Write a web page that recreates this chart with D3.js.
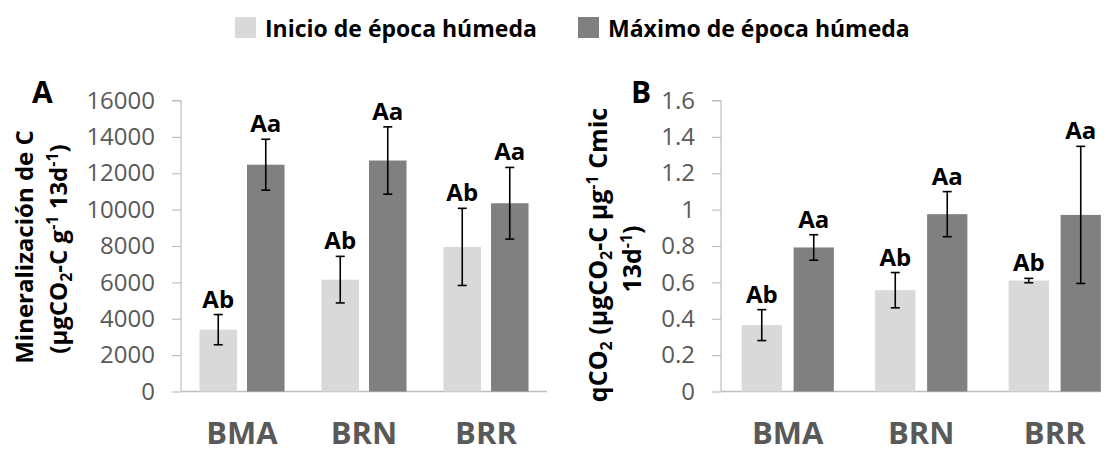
<!DOCTYPE html>
<html><head><meta charset="utf-8">
<script src="https://cdn.jsdelivr.net/npm/d3@7"></script>
<style>
html,body{margin:0;padding:0;background:#fff;}
svg{display:block;font-family:"Open Sans",sans-serif;}
</style></head>
<body>
<svg id="c" width="1108" height="452"></svg>
<script>
const categories = ["BMA", "BRN", "BRR"];
const seriesNames = ["Inicio de época húmeda", "Máximo de época húmeda"];
const seriesColors = ["#d9d9d9", "#808080"];

// Panel A: Mineralización de C
const aInicio = [3400, 6150, 7950];
const aInicioErr = [830, 1280, 2120];
const aMaximo = [12470, 12700, 10350];
const aMaximoErr = [1400, 1850, 1970];
const aInicioLbl = ["Ab", "Ab", "Ab"];
const aMaximoLbl = ["Aa", "Aa", "Aa"];
const aTicks = [0, 2000, 4000, 6000, 8000, 10000, 12000, 14000, 16000];

// Panel B: qCO2
const bInicio = [0.365, 0.557, 0.610];
const bInicioErr = [0.085, 0.097, 0.012];
const bMaximo = [0.792, 0.975, 0.971];
const bMaximoErr = [0.07, 0.124, 0.377];
const bInicioLbl = ["Ab", "Ab", "Ab"];
const bMaximoLbl = ["Aa", "Aa", "Aa"];
const bTicks = [0, 0.2, 0.4, 0.6, 0.8, 1.0, 1.2, 1.4, 1.6];

const svg = d3.select("#c");

function panel(opt) {
  const g = svg.append("g");
  const y = d3.scaleLinear().domain([opt.ticks[0], opt.ticks[opt.ticks.length-1]]).range([391.5, 100.5]);
  const x0 = d3.scaleBand().domain(categories).range(opt.xr).paddingInner(opt.pi).paddingOuter(opt.pi/2);
  const x1 = d3.scaleBand().domain([0,1]).range([0, x0.bandwidth()]).paddingInner(opt.sub);

  // y axis
  const yAxis = d3.axisLeft(y).tickValues(opt.ticks).tickSize(9).tickPadding(17)
     .tickFormat(opt.fmt);
  const ya = g.append("g").attr("transform", `translate(${opt.xr[0]},0)`).call(yAxis);
  ya.select(".domain").attr("stroke", "#bfbfbf").attr("stroke-width", 1.2).attr("d", `M-9,${y.range()[1]}H0V${y.range()[0]}`);
  ya.selectAll(".tick line").attr("stroke", "#bfbfbf").attr("stroke-width", 1.2);
  ya.selectAll(".tick text").attr("fill", "#595959").style("font-size", "24px").style("font-family", "Open Sans");

  // x baseline
  g.append("line").attr("x1", opt.xr[0]).attr("x2", opt.xEnd).attr("y1", y(0)).attr("y2", y(0))
    .attr("stroke", "#bfbfbf").attr("stroke-width", 1.5);

  const series = [
    {vals: opt.s1, err: opt.e1, lbl: opt.l1, i: 0},
    {vals: opt.s2, err: opt.e2, lbl: opt.l2, i: 1}
  ];
  series.forEach(s => {
    const data = categories.map((c, k) => ({c, v: s.vals[k], e: s.err[k], l: s.lbl[k]}));
    const bx = d => x0(d.c) + x1(s.i);
    const bw = x1.bandwidth();
    g.selectAll(null).data(data).enter().append("rect")
      .attr("x", bx).attr("width", bw)
      .attr("y", d => y(d.v)).attr("height", d => y(0) - y(d.v))
      .attr("fill", seriesColors[s.i]);
    const eg = g.selectAll(null).data(data).enter().append("g")
      .attr("stroke", "#000").attr("stroke-width", 1.6);
    eg.append("line").attr("x1", d => bx(d)+bw/2).attr("x2", d => bx(d)+bw/2)
      .attr("y1", d => y(d.v + d.e)).attr("y2", d => y(d.v - d.e));
    eg.append("line").attr("x1", d => bx(d)+bw/2-4.5).attr("x2", d => bx(d)+bw/2+4.5)
      .attr("y1", d => y(d.v + d.e)).attr("y2", d => y(d.v + d.e));
    eg.append("line").attr("x1", d => bx(d)+bw/2-4.5).attr("x2", d => bx(d)+bw/2+4.5)
      .attr("y1", d => y(d.v - d.e)).attr("y2", d => y(d.v - d.e));
    g.selectAll(null).data(data).enter().append("text")
      .attr("x", d => bx(d)+bw/2).attr("y", d => y(d.v + d.e) - 7)
      .attr("text-anchor", "middle").attr("font-weight", "bold").attr("font-size", 24)
      .attr("fill", "#000").text(d => d.l);
  });

  // category labels
  g.selectAll(null).data(categories).enter().append("text")
    .attr("x", d => x0(d) + x0.bandwidth()/2).attr("y", 444)
    .attr("text-anchor", "middle").attr("font-weight", "bold").attr("font-size", 31)
    .attr("fill", "#595959").text(d => d);

  // panel letter
  g.append("text").attr("x", opt.letterX).attr("y", 103).attr("font-weight", "bold")
    .attr("font-size", 30).attr("fill", "#000").text(opt.letter);

  // axis title
  opt.title.forEach((line, li) => {
    const t = g.append("text")
      .attr("transform", `translate(${line.x},${line.cy}) rotate(-90)`)
      .attr("text-anchor", "middle").attr("font-weight", "bold").attr("font-size", line.fs || 24).attr("fill", "#000");
    line.parts.forEach(p => {
      const ts = t.append("tspan").text(p[0]);
      if (p[1] === "sub") ts.attr("font-size", 16).attr("dy", 5);
      else if (p[1] === "sup") ts.attr("font-size", 16).attr("dy", -9);
      else if (p[1] === "subEnd") ts.attr("dy", -5);
      else if (p[1] === "supEnd") ts.attr("dy", 9);
    });
  });
}

panel({
  xr: [181, 547], xEnd: 547, pi: 0.303, sub: 0.2105, ticks: aTicks, fmt: d3.format("d"),
  s1: aInicio, e1: aInicioErr, l1: aInicioLbl, s2: aMaximo, e2: aMaximoErr, l2: aMaximoLbl,
  letter: "A", letterX: 32,
  title: [
    {x: 33, cy: 247, fs: 24, parts: [["Mineralización de C"]]},
    {x: 67, cy: 249, fs: 24, parts: [["(µgCO"], ["2", "sub"], ["-C g", "subEnd"], ["-1", "sup"], [" 13d", "supEnd"], ["-1", "sup"], [")", "supEnd"]]}
  ]
});

panel({
  xr: [721, 1121.5], xEnd: 1101, pi: 0.309, sub: 0.225, ticks: bTicks, fmt: d => d3.format("")(+d.toFixed(1)),
  s1: bInicio, e1: bInicioErr, l1: bInicioLbl, s2: bMaximo, e2: bMaximoErr, l2: bMaximoLbl,
  letter: "B", letterX: 631,
  title: [
    {x: 607, cy: 255, fs: 25, parts: [["qCO"], ["2", "sub"], [" (µgCO", "subEnd"], ["2", "sub"], ["-C µg", "subEnd"], ["-1", "sup"], [" Cmic", "supEnd"]]},
    {x: 641, cy: 259, fs: 25, parts: [["13d"], ["-1", "sup"], [")", "supEnd"]]}
  ]
});

// legend
const legend = svg.append("g");
const legX = [235, 578];
seriesNames.forEach((n, i) => {
  legend.append("rect").attr("x", legX[i]).attr("y", 17).attr("width", 21).attr("height", 21).attr("fill", seriesColors[i]);
  legend.append("text").attr("x", legX[i] + 30).attr("y", 37).attr("font-weight", "bold")
    .attr("font-size", 23).attr("fill", "#000").text(n);
});
</script>
</body></html>
